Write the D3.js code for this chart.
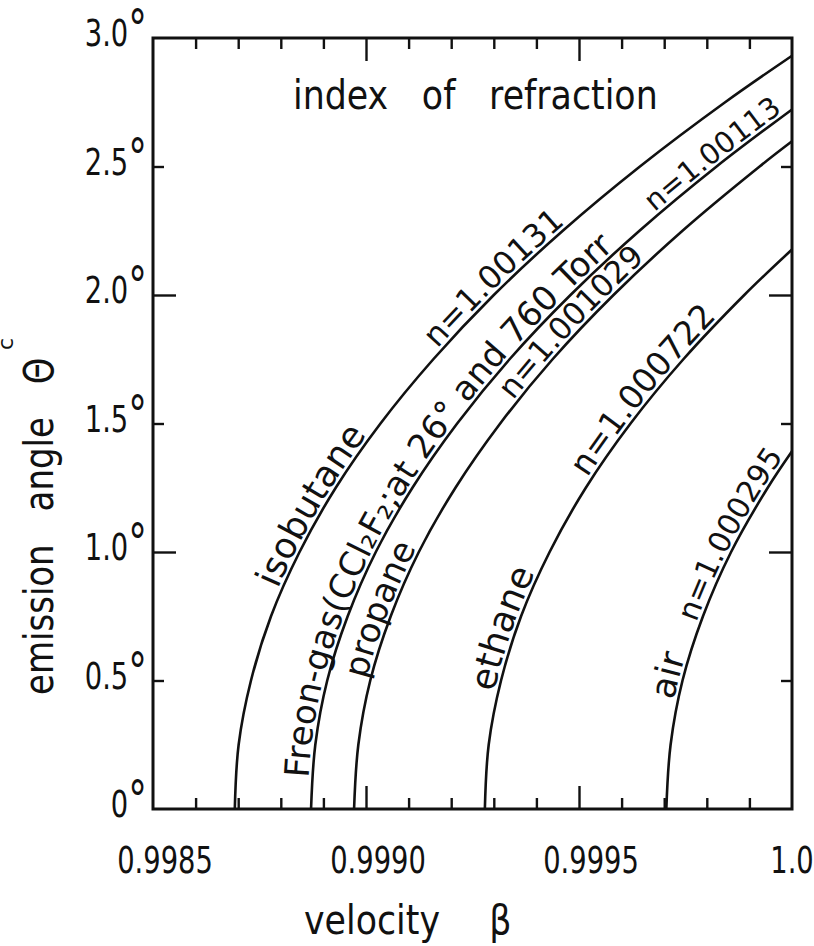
<!DOCTYPE html>
<html>
<head>
<meta charset="utf-8">
<script src="https://cdn.jsdelivr.net/npm/d3@7"></script>
<style>
body { margin: 0; background: #fff; }
svg text { font-family: "DejaVu Sans", sans-serif; fill: #111; }
</style>
</head>
<body>
<svg id="chart" width="814" height="946"></svg>
<script>
// velocity axis
var betaTicks = [0.9985, 0.9990, 0.9995, 1.0];
var betaTickLabels = ["0.9985", "0.9990", "0.9995", "1.0"];
var betaMinor = [0.9986, 0.9987, 0.9988, 0.9989, 0.9991, 0.9992, 0.9993, 0.9994,
                 0.9996, 0.9997, 0.9998, 0.9999];
var betaMajor = [0.9990, 0.9995];

// emission angle axis (degrees)
var thetaTicks = [0, 0.5, 1.0, 1.5, 2.0, 2.5, 3.0];
var thetaTickLabels = ["0°", "0.5°", "1.0°", "1.5°", "2.0°", "2.5°", "3.0°"];
var thetaMinor = [0.5, 1.5, 2.5];
var thetaMajor = [1.0, 2.0];

// curves: velocity beta and emission angle theta (deg)
var isobutaneBeta  = [0.998692, 0.998701, 0.998730, 0.998777, 0.998844, 0.998929, 0.999034,
                      0.999158, 0.999300, 0.999462, 0.999643, 0.999843, 1.0];
var isobutaneTheta = [0, 0.25, 0.5, 0.75, 1.0, 1.25, 1.5, 1.75, 2.0, 2.25, 2.5, 2.75, 2.931];

var freonBeta  = [0.998871, 0.998881, 0.998909, 0.998957, 0.999023, 0.999109, 0.999214,
                  0.999337, 0.999480, 0.999642, 0.999823, 1.0];
var freonTheta = [0, 0.25, 0.5, 0.75, 1.0, 1.25, 1.5, 1.75, 2.0, 2.25, 2.5, 2.722];

var propaneBeta  = [0.998972, 0.998982, 0.999010, 0.999058, 0.999124, 0.999210, 0.999315,
                    0.999438, 0.999581, 0.999743, 0.999924, 1.0];
var propaneTheta = [0, 0.25, 0.5, 0.75, 1.0, 1.25, 1.5, 1.75, 2.0, 2.25, 2.5, 2.598];

var ethaneBeta  = [0.999279, 0.999288, 0.999317, 0.999364, 0.999431, 0.999516, 0.999621,
                   0.999745, 0.999888, 1.0];
var ethaneTheta = [0, 0.25, 0.5, 0.75, 1.0, 1.25, 1.5, 1.75, 2.0, 2.177];

var airBeta  = [0.999705, 0.999715, 0.999743, 0.999791, 0.999857, 0.999943, 1.0];
var airTheta = [0, 0.25, 0.5, 0.75, 1.0, 1.25, 1.392];

var curves = [
    d3.zip(isobutaneBeta, isobutaneTheta),
    d3.zip(freonBeta, freonTheta),
    d3.zip(propaneBeta, propaneTheta),
    d3.zip(ethaneBeta, ethaneTheta),
    d3.zip(airBeta, airTheta)
];

// text written along the curves; start = angle where the text begins
var curveLabels = [
    {text: "isobutane", curve: 0, start: 0.85, size: 36},
    {text: "n=1.00131", curve: 0, start: 1.78, size: 32},
    {text: "Freon-gas(CCl₂F₂;at 26° and 760 Torr", curve: 1, start: 0.12, size: 34},
    {text: "n=1.00113", curve: 1, start: 2.31, size: 29},
    {text: "propane", curve: 2, start: 0.50, size: 34},
    {text: "n=1.001029", curve: 2, start: 1.58, size: 31},
    {text: "ethane", curve: 3, start: 0.45, size: 36},
    {text: "n=1.000722", curve: 3, start: 1.28, size: 33},
    {text: "air", curve: 4, start: 0.42, size: 35},
    {text: "n=1.000295", curve: 4, start: 0.72, size: 30}
];

//////////////////////////////////////////////////////////////////////////////

var plotLeft = 153, plotRight = 792, plotTop = 38, plotBottom = 809;

var svg = d3.select("#chart");

var x = d3.scaleLinear().domain([0.9985, 1.0]).range([plotLeft, plotRight]);
var y = d3.scaleLinear().domain([0, 3]).range([plotBottom, plotTop]);

function ticks(axisFn, scale, values, size, where)
{
    var g = svg.append("g")
        .attr("transform", where)
        .call(axisFn(scale).tickValues(values).tickSize(size).tickFormat(""));
    g.select(".domain").remove();
    g.selectAll("line").attr("stroke", "#111").attr("stroke-width", 2.4);
}

ticks(d3.axisBottom, x, betaMinor, -11, "translate(0," + plotBottom + ")");
ticks(d3.axisBottom, x, betaMajor, -23, "translate(0," + plotBottom + ")");
ticks(d3.axisTop, x, betaMinor, -11, "translate(0," + plotTop + ")");
ticks(d3.axisTop, x, betaMajor, -23, "translate(0," + plotTop + ")");
ticks(d3.axisLeft, y, thetaMinor, -11, "translate(" + plotLeft + ",0)");
ticks(d3.axisLeft, y, thetaMajor, -23, "translate(" + plotLeft + ",0)");
ticks(d3.axisRight, y, thetaMinor, -11, "translate(" + plotRight + ",0)");
ticks(d3.axisRight, y, thetaMajor, -23, "translate(" + plotRight + ",0)");

svg.append("rect")
    .attr("x", plotLeft).attr("y", plotTop)
    .attr("width", plotRight - plotLeft).attr("height", plotBottom - plotTop)
    .attr("fill", "none").attr("stroke", "#111").attr("stroke-width", 3);

// tick labels (the lettering is narrow, so squeeze it)
svg.selectAll(".xlab").data(betaTicks).enter().append("text")
    .attr("class", "xlab")
    .attr("transform", function(d, i) {
        var shift = (betaTickLabels[i].length - 3) * 4;
        return "translate(" + (x(d) + shift) + ",873) scale(0.72,1)";
    })
    .attr("text-anchor", "middle")
    .attr("font-size", 38)
    .text(function(d, i) { return betaTickLabels[i]; });

var ylabs = svg.selectAll(".ylab").data(thetaTicks).enter().append("text")
    .attr("class", "ylab")
    .attr("transform", function(d) { return "translate(147," + (y(d) + 8) + ") scale(0.72,1)"; })
    .attr("text-anchor", "end")
    .attr("font-size", 38);
ylabs.append("tspan").text(function(d, i) { return thetaTickLabels[i].slice(0, -1); });
ylabs.append("tspan").attr("font-size", 52).text("°");

// axis titles
svg.append("text")
    .attr("transform", "translate(304,934) scale(0.87,1)")
    .attr("font-size", 40)
    .style("word-spacing", "44px")
    .text("velocity β");

svg.append("text")
    .attr("transform", "translate(53,695) rotate(-90) scale(0.85,1)")
    .attr("font-size", 40)
    .style("word-spacing", "26px")
    .text("emission angle Θ");

svg.append("text")
    .attr("transform", "translate(13,350) rotate(-90)")
    .attr("font-size", 22)
    .text("c");

svg.append("text")
    .attr("transform", "translate(293,109) scale(0.87,1)")
    .attr("font-size", 40)
    .style("word-spacing", "26px")
    .text("index of refraction");

// the curves
var line = d3.line()
    .x(function(d) { return x(d[0]); })
    .y(function(d) { return y(d[1]); })
    .curve(d3.curveCatmullRom.alpha(0.5));

var paths = svg.selectAll(".curve").data(curves).enter().append("path")
    .attr("class", "curve")
    .attr("id", function(d, i) { return "curve" + i; })
    .attr("d", line)
    .attr("fill", "none")
    .attr("stroke", "#111")
    .attr("stroke-width", 2.6);

function lengthAtTheta(node, th)
{
    var target = y(th), lo = 0, hi = node.getTotalLength();
    for (var k=0; k<30; ++k) {
        var mid = (lo + hi) / 2;
        if (node.getPointAtLength(mid).y > target) lo = mid; else hi = mid;
    }
    return lo;
}

curveLabels.forEach(function(lab) {
    var node = paths.nodes()[lab.curve];
    svg.append("text")
        .attr("font-size", lab.size)
        .append("textPath")
        .attr("href", "#curve" + lab.curve)
        .attr("startOffset", lengthAtTheta(node, lab.start))
        .append("tspan")
        .attr("dy", -4)
        .text(lab.text);
});
</script>
</body>
</html>
